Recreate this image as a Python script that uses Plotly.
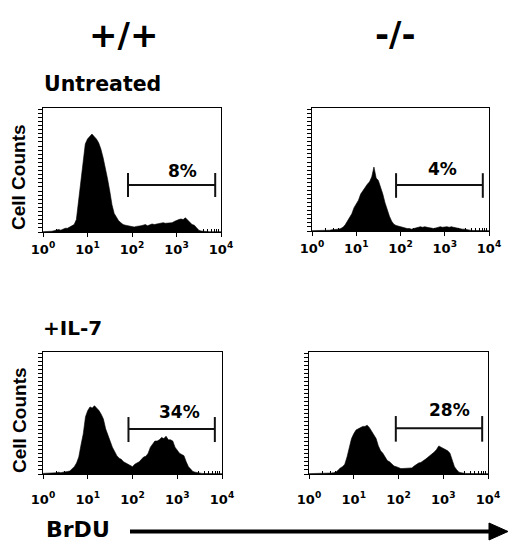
import plotly.graph_objects as go

W, H = 508, 543

# BrdU channel positions (log10 decades), 0.05-decade bins
LOG_BINS = [round(i * 0.05, 2) for i in range(81)]

# Cell counts per bin (% of y-axis full scale)
WT_UNTREATED = [
    0.3, 0.3, 0.5, 0.4, 0.6, 1.0, 1.5, 2.0, 1.5, 2.5,
    3.0, 3.0, 4.0, 5.0, 6.0, 10, 25, 43, 59, 71,
    75, 77, 79, 77, 75, 72, 67, 60, 52, 43,
    33, 22, 15, 12, 9, 7.5, 6, 5.5, 5, 4.5,
    4.5, 4, 4.5, 4.5, 5, 5.5, 6, 5, 6, 6.5,
    6, 6.5, 7, 7, 7.5, 7, 7, 7, 7.5, 8.5,
    9.5, 10, 10.5, 10, 11.5, 9.5, 7.5, 6, 5.5, 3.5,
    1.5, 0.8, 0.5, 0.3, 0.3, 0.2, 0.2, 0.2, 0.2, 0.2,
    0.2,
]
KO_UNTREATED = [
    0.3, 0.3, 0.4, 0.3, 0.5, 0.5, 0.6, 0.8, 0.6, 1.0,
    1.0, 1.0, 1.5, 2.0, 3.0, 5.0, 8.0, 11, 14, 19,
    22, 25, 30, 33, 36, 38, 40, 44, 52, 43,
    41, 36, 30, 23, 17, 12, 8, 5.5, 4.5, 4,
    3, 3, 2.5, 2, 2, 1.5, 2, 2.5, 3, 3.5,
    3, 3.5, 3, 2.5, 2.5, 2, 2.5, 3, 3.5, 3,
    3.5, 3.5, 3, 3.5, 3, 2.5, 2, 2, 1.5, 1.5,
    1, 0.5, 0.5, 0.4, 0.3, 0.3, 0.3, 0.3, 0.3, 0.3,
    0.3,
]
WT_IL7 = [
    0.5, 0.5, 0.8, 0.6, 1.0, 0.8, 1.0, 1.5, 1.0, 1.5,
    1.5, 2, 2.5, 4, 6, 9, 14, 24, 33, 47,
    52, 55, 54, 56, 54, 52, 49, 45, 37, 31,
    27, 22, 18, 15, 13, 12, 10, 9, 8, 7,
    6, 8, 9, 10, 12, 14, 14.5, 17, 22, 25,
    27, 27, 28, 30, 29, 31, 28, 28, 27, 22,
    19, 17, 16, 15, 10, 6, 4, 2, 1.5, 1,
    0.5, 0.5, 0.4, 0.3, 0.3, 0.3, 0.3, 0.3, 0.3, 0.3,
    0.3,
]
KO_IL7 = [
    0.3, 0.3, 0.5, 0.4, 0.5, 0.5, 0.6, 0.5, 0.8, 0.6,
    0.8, 1, 1.5, 3, 5, 6, 8, 14, 22, 29,
    33, 36, 37, 38, 39, 39, 40, 38, 35, 33,
    29, 23, 19, 17, 14, 11, 10, 8, 6.5, 6,
    5, 4.5, 4.5, 4.5, 4.5, 4.5, 5, 6.5, 8, 9,
    9.5, 10.5, 12, 13.5, 15, 16, 18, 20, 23, 22,
    21, 20, 19, 17, 11, 6, 3.5, 1.5, 1, 0.5,
    0.5, 0.4, 0.3, 0.3, 0.3, 0.3, 0.3, 0.3, 0.3, 0.3,
    0.3,
]

SERIES = [WT_UNTREATED, KO_UNTREATED, WT_IL7, KO_IL7]

# Gate (marker) bounds in log10 decades, gate bar level and % positive
GATE_LO = [1.91, 1.90, 1.91, 1.94]
GATE_HI = [3.87, 3.86, 3.84, 3.87]
GATE_Y = [37.9, 37.4, 36.9, 37.5]
GATE_TICK_LO = [28.2, 27.0, 26.2, 26.5]
GATE_TICK_HI = [47.6, 47.0, 46.7, 47.5]
GATE_PCT = ["8%", "4%", "34%", "28%"]
PCT_X = [3.13, 2.96, 3.04, 3.13]
PCT_Y = [49.0, 50.4, 50.8, 52.5]

TICK_VALS = [1, 10, 100, 1000, 10000]
TICK_TEXT = ["<b>10<sup>%d</sup></b>" % i for i in range(5)]
MINOR_VALS = [m * 10 ** d for d in range(4) for m in range(2, 10)]

# panel pixel boxes: (left, right, top, bottom)
BOXES = [(43, 221, 108, 232), (312, 489, 108, 231), (43, 222, 352, 474), (309, 488, 352, 474)]

FONT = "DejaVu Sans"

fig = go.Figure()
layout = dict(
    width=W, height=H, autosize=False,
    margin=dict(l=0, r=0, t=0, b=0, pad=0, autoexpand=False),
    paper_bgcolor="white", plot_bgcolor="white", showlegend=False,
)

for i, (vals, box) in enumerate(zip(SERIES, BOXES)):
    n = i + 1
    xa = "x" if n == 1 else "x%d" % n
    ya = "y" if n == 1 else "y%d" % n
    xs = [10 ** b for b in LOG_BINS]
    fig.add_trace(go.Scatter(
        x=xs, y=vals, mode="lines", fill="tozeroy",
        line=dict(color="black", width=0.6), fillcolor="black",
        xaxis=xa, yaxis=ya, hoverinfo="skip",
    ))
    lo, hi = 10 ** GATE_LO[i], 10 ** GATE_HI[i]
    fig.add_trace(go.Scatter(
        x=[lo, hi, None, lo, lo, None, hi, hi],
        y=[GATE_Y[i], GATE_Y[i], None, GATE_TICK_LO[i], GATE_TICK_HI[i], None,
           GATE_TICK_LO[i], GATE_TICK_HI[i]],
        mode="lines", line=dict(color="#111", width=2),
        xaxis=xa, yaxis=ya, hoverinfo="skip",
    ))
    l, r, t, b = box
    bottom_row = i >= 2
    layout["xaxis" if n == 1 else "xaxis%d" % n] = dict(
        type="log", range=[0, 4], domain=[l / W, r / W], anchor=ya,
        automargin=False,
        tickvals=TICK_VALS, ticktext=TICK_TEXT, ticks="outside", ticklen=4,
        tickwidth=1.2, tickcolor="black",
        ticklabelstandoff=9 if bottom_row else 1,
        tickfont=dict(family=FONT, size=13, color="black"),
        showline=True, linecolor="black", linewidth=1.2, mirror=True,
        showgrid=False, zeroline=False,
        minor=dict(tickvals=MINOR_VALS, ticks="inside", ticklen=3,
                   tickcolor="black", tickwidth=1, showgrid=False),
    )
    layout["yaxis" if n == 1 else "yaxis%d" % n] = dict(
        range=[0, 100], domain=[1 - b / H, 1 - t / H], anchor=xa,
        automargin=False,
        tick0=0, dtick=3.3, ticks="outside", ticklen=4, tickwidth=1,
        tickcolor="black", showticklabels=False,
        showline=True, linecolor="black", linewidth=1.2, mirror=True,
        showgrid=False, zeroline=False,
    )

annotations = []
for i in range(4):
    n = i + 1
    annotations.append(dict(
        x=PCT_X[i], y=PCT_Y[i], xref="x" if n == 1 else "x%d" % n,
        yref="y" if n == 1 else "y%d" % n, text="<b>%s</b>" % GATE_PCT[i],
        showarrow=False, xanchor="center", yanchor="middle",
        font=dict(family=FONT, size=17, color="black"),
    ))


def paper_text(text, px, py, size, family=FONT, angle=0, xanchor="center", yanchor="middle"):
    annotations.append(dict(
        x=px / W, y=1 - py / H, xref="paper", yref="paper", text="<b>%s</b>" % text,
        showarrow=False, xanchor=xanchor, yanchor=yanchor, textangle=angle,
        borderpad=0, font=dict(family=family, size=size, color="black"),
    ))


paper_text("+/+", 123, 35, 34)
paper_text("-/-", 395, 34, 34)
paper_text("Untreated", 43, 84, 20.5, xanchor="left")
paper_text("+IL-7", 42, 328, 20, xanchor="left")
paper_text("Cell Counts", 19, 177, 19, family="Liberation Sans", angle=-90)
paper_text("Cell Counts", 19, 420, 19, family="Liberation Sans", angle=-90)
paper_text("BrDU", 45, 543, 22, xanchor="left", yanchor="bottom")

layout["annotations"] = annotations
layout["shapes"] = [
    dict(type="line", xref="paper", yref="paper", x0=130 / W, x1=493 / W,
         y0=1 - 531.5 / H, y1=1 - 531.5 / H, line=dict(color="black", width=4)),
    dict(type="path", xref="paper", yref="paper",
         path="M %f %f L %f %f L %f %f Z" % (489 / W, 1 - 523 / H, 508 / W, 1 - 531.5 / H,
                                              489 / W, 1 - 540 / H),
         fillcolor="black", line=dict(color="black", width=1)),
]

fig.update_layout(**layout)
fig.write_html(
    "out.html",
    config={"displayModeBar": False},
    post_script="document.body.style.margin='0';document.body.style.overflow='hidden';",
)
